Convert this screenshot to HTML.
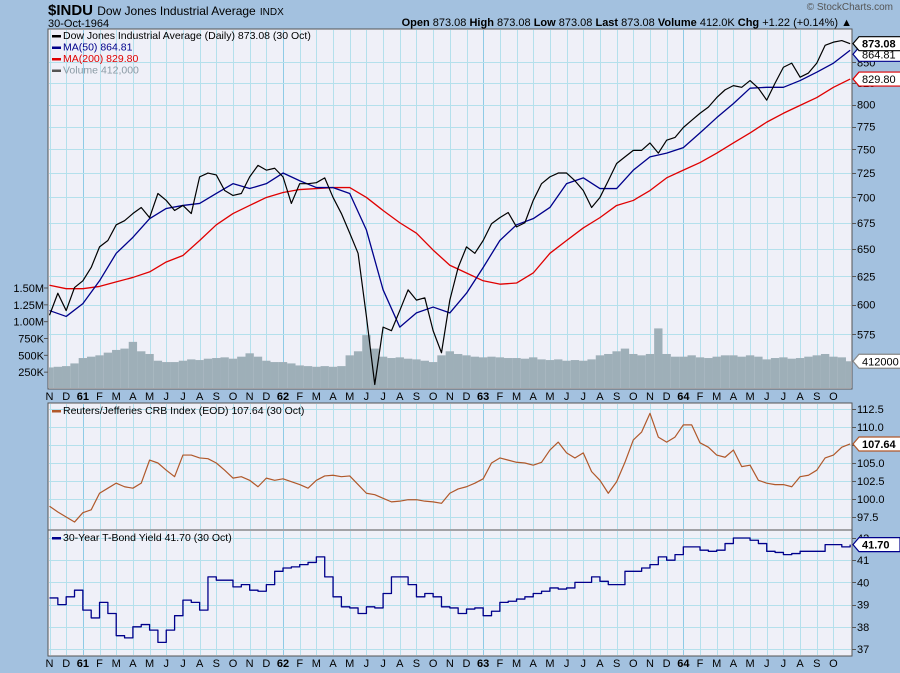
<!DOCTYPE html>
<html><head><meta charset="utf-8"><style>
body{margin:0;background:#a3c1df;font-family:"Liberation Sans",sans-serif;}
svg{display:block}
text{font-family:"Liberation Sans",sans-serif}
</style></head><body>
<svg id="c" width="900" height="673" viewBox="0 0 900 673">
<rect x="0" y="0" width="900" height="673" fill="#a3c1df"/>
<text x="48" y="15" font-size="15" font-weight="bold" fill="#000">$INDU <tspan font-weight="normal" font-size="12">Dow Jones Industrial Average</tspan> <tspan font-weight="normal" font-size="10">INDX</tspan></text>
<text x="48" y="27" font-size="11" fill="#000">30-Oct-1964</text>
<text x="893" y="10" font-size="10" fill="#555" text-anchor="end">© StockCharts.com</text>
<text x="852" y="26" font-size="11" fill="#000" text-anchor="end"><tspan font-weight="bold">Open</tspan> 873.08  <tspan font-weight="bold">High</tspan> 873.08  <tspan font-weight="bold">Low</tspan> 873.08  <tspan font-weight="bold">Last</tspan> 873.08  <tspan font-weight="bold">Volume</tspan> 412.0K  <tspan font-weight="bold">Chg</tspan> +1.22 (+0.14%) ▲</text>
<g id="main"></g>
</svg>
<script>
// half-month samples Nov 1960 .. 30 Oct 1964
const months=["N","D","61","F","M","A","M","J","J","A","S","O","N","D","62","F","M","A","M","J","J","A","S","O","N","D","63","F","M","A","M","J","J","A","S","O","N","D","64","F","M","A","M","J","J","A","S","O"];
const closes=[591,610,595,615,621,633,652,658,673,677,684,690,680,704,697,687,692,684,721,725,723,707,702,704,721,733,728,730,721,694,714,714,715,720,700,684,665,646,590,535,581,578,595,613,604,606,578,560,604,633,652,646,658,674,680,685,671,675,697,714,721,725,725,717,707,690,700,717,735,742,749,749,757,746,760,763,774,782,790,797,808,817,822,820,828,819,805,825,844,849,832,837,849,871,875,877,873.08];
// monthly MA readings (every 2nd sample, last at final sample)
const ma50=[595,590,601,621,646,661,679,689,692,694,704,714,709,714,725,717,710,710,704,668,613,581,593,598,593,610,633,658,673,679,690,714,720,709,709,728,742,746,752,768,785,801,819,820,820,828,838,849,864.81];
const ma200=[617,614,614,616,620,624,629,638,644,658,673,684,692,700,705,708,709,710,710,700,687,675,665,649,635,628,621,618,619,628,646,658,670,680,692,697,707,720,728,736,746,757,768,780,790,799,808,820,829.8];
const volumes=[320,330,340,380,460,480,500,540,580,600,700,560,520,420,400,400,420,440,430,450,460,470,450,480,530,480,420,400,400,380,350,340,330,340,330,340,500,560,800,600,480,460,470,450,440,420,400,500,560,520,500,480,470,480,470,460,460,450,470,440,430,440,420,430,420,440,500,520,560,600,520,500,520,900,520,480,480,500,470,460,480,500,500,480,500,480,440,460,470,450,460,480,500,520,480,470,412];
const crb=[99.0,98.2,97.5,96.8,98.1,98.5,100.8,101.5,102.2,101.7,101.5,102.2,105.4,105.0,104.0,103.1,106.1,106.1,105.7,105.6,105.0,104.0,102.9,103.1,102.6,101.7,102.9,102.6,102.8,102.4,102.0,101.5,102.6,103.2,103.3,103.1,103.2,102.0,100.8,100.6,100.1,99.6,99.7,99.9,99.9,99.7,99.6,99.4,100.8,101.4,101.7,102.2,102.8,105.0,105.7,105.4,105.1,105.0,104.7,105.1,106.8,107.9,106.4,105.7,106.4,103.8,102.6,100.8,102.4,105.1,108.2,109.3,111.9,108.6,107.9,108.6,110.3,110.3,107.8,107.2,106.1,105.8,106.8,104.5,104.7,102.6,102.2,102.0,102.0,101.7,103.1,103.3,104.0,105.7,106.1,107.2,107.64];
const bond=[39.3,39.0,39.35,39.65,38.75,38.4,39.1,38.6,37.6,37.5,38.0,38.1,37.85,37.3,37.85,38.5,39.2,39.1,38.75,40.25,40.1,40.1,39.8,39.9,39.65,39.6,39.9,40.5,40.65,40.7,40.8,40.9,41.15,40.25,39.35,38.9,38.85,38.6,38.9,38.85,39.5,40.25,40.25,39.9,39.35,39.5,39.35,38.9,38.85,38.6,38.8,38.85,38.5,38.7,39.1,39.15,39.25,39.35,39.5,39.6,39.75,39.7,39.75,40.0,40.0,40.25,40.05,39.9,39.9,40.5,40.5,40.65,40.8,41.15,41.0,41.25,41.6,41.6,41.45,41.4,41.45,41.75,42.0,42.0,41.9,41.75,41.4,41.35,41.25,41.3,41.4,41.4,41.4,41.7,41.7,41.6,41.7];
const priceTicks=[575,600,625,650,675,700,725,750,775,800,825,850];
const volTicks=[250,500,750,1000,1250,1500];
const volTickLabels=["250K","500K","750K","1.00M","1.25M","1.50M"];
const crbTicks=[97.5,100,102.5,105,107.5,110,112.5];
const crbTickLabels=["97.5","100.0","102.5","105.0","107.5","110.0","112.5"];
const bondTicks=[37,38,39,40,41,42];

const NS="http://www.w3.org/2000/svg";
const root=document.getElementById('main');
function el(tag,attrs,parent){const e=document.createElementNS(NS,tag);for(const k in attrs)e.setAttribute(k,attrs[k]);(parent||root).appendChild(e);return e;}
const L=48,R=852;
const P1={t:29,b:389},P2={t:403,b:530},P3={t:530,b:656};
const xi=i=>49.5+i*8.34;
const xm=m=>49.5+m*16.68;
const yP=p=>4757-696*Math.log(p);
const yV=v=>389-v/1500*101;
const yC=v=>409+(112.5-v)*7.2;
const yB=v=>538+(42-v)*22.2;

function panel(p,name){
  const r=el('rect',{x:L,y:p.t,width:R-L,height:p.b-p.t,fill:'#eff0f8',stroke:'#555','stroke-width':1});
  
  
  for(let m=0;m<months.length;m++){
    const x=Math.round(xm(m))+0.5;
    const yr=/\d/.test(months[m]);
    const g=el('line',{x1:x,x2:x,y1:p.t+1,y2:p.b-1,stroke:yr?'#8fcbe6':'#b4e0ec','stroke-width':1});
    
    
  }
}
function hgrid(p,vals,f,labels,name){
  vals.forEach((v,k)=>{
    const y=Math.round(f(v))+0.5;
    if(y>p.t&&y<p.b){const g=el('line',{x1:L+1,x2:R-1,y1:y,y2:y,stroke:'#b4e0ec'});
    
    }
    el('line',{x1:R,x2:R+4,y1:y,y2:y,stroke:'#555'});
    const t=el('text',{x:R+5,y:f(v)+4,'font-size':11,fill:'#000'});
    t.textContent=labels?labels[k]:String(v);
    
    
  });
}
function poly(vals,xf,yf,color,w,name,step){
  let d='';
  vals.forEach((v,i)=>{const x=xf(i),y=yf(v);
    if(i===0)d+='M'+x+','+y;else if(step)d+='H'+x+'V'+y;else d+='L'+x+','+y;});
  const p=el('path',{d:d,fill:'none',stroke:color,'stroke-width':w,'stroke-linejoin':'round'});
  
  
}
function valueBox(y,txt,color,name,bold){
  const w=txt.length*7+6;
  const b=el('path',{d:`M${R+1},${y} L${R+7},${y-7} H${R+7+w} V${y+7} H${R+7} Z`,fill:'#fff',stroke:color,'stroke-width':1.2});
  
  
  const t=el('text',{x:R+10,y:y+4,'font-size':11,'font-weight':bold?'bold':'normal',fill:'#000'});
  t.textContent=txt;
  
  
}
function monthLabels(y,name){
  months.forEach((m,k)=>{
    const t=el('text',{x:xm(k),y:y,'font-size':11,'text-anchor':'middle','font-weight':/\d/.test(m)?'bold':'normal',fill:'#000'});
    t.textContent=m;
    
    
  });
}

// main panel
panel(P1,'price-panel');
hgrid(P1,priceTicks,yP,null,'price');
volTicks.forEach((v,k)=>{
  const y=yV(v);
  el('line',{x1:L-4,x2:L,y1:y,y2:y,stroke:'#555'});
  const t=el('text',{x:L-4,y:y+4,'font-size':11,'text-anchor':'end',fill:'#000'});
  t.textContent=volTickLabels[k];
  
  
});
volumes.forEach((v,i)=>{
  const x0=Math.max(L+1,xi(i)-4.17),x1=Math.min(R-1,xi(i)+4.17);
  const b=el('rect',{x:x0,y:yV(v),width:x1-x0,height:388-yV(v),fill:'#9eafb8'});
  
  
});
poly(ma200,i=>xi(i===ma200.length-1?96:i*2),yP,'#e00000',1.3,'ma200-line');
poly(ma50,i=>xi(i===ma50.length-1?96:i*2),yP,'#00008b',1.3,'ma50-line');
poly(closes,xi,yP,'#000',1.2,'dow-close-line');
valueBox(yP(829.8),'829.80','#e00000','ma200-value');
valueBox(yP(864.81)+4,'864.81','#00008b','ma50-value');
valueBox(yP(873.08),'873.08','#000','close-value',true);
valueBox(yV(412),'412000','#888','volume-value');

const leg=[["Dow Jones Industrial Average (Daily) 873.08 (30 Oct)","#000","#000"],["MA(50) 864.81","#00008b","#00008b"],["MA(200) 829.80","#e00000","#e00000"],["Volume 412,000","#8a9aa4","#555"]];
leg.forEach((l,k)=>{
  const y=39+k*11.5;
  el('rect',{x:52,y:y-4,width:9,height:2.5,fill:l[2]});
  const t=el('text',{x:63,y:y,'font-size':10.5,fill:l[1]});
  t.textContent=l[0];
  
  
});
monthLabels(400,'x-axis-label-top');

// CRB panel
panel(P2,'crb-panel');
hgrid(P2,crbTicks,yC,crbTickLabels,'crb');
poly(crb,xi,yC,'#b0582a',1.2,'crb-line');
valueBox(yC(107.64),'107.64','#b0582a','crb-value',true);
el('rect',{x:52,y:410,width:9,height:2.5,fill:'#b0582a'});
let t=el('text',{x:63,y:414,'font-size':10.5,fill:'#000'});
t.textContent='Reuters/Jefferies CRB Index (EOD) 107.64 (30 Oct)';



// Bond panel
panel(P3,'bond-panel');
hgrid(P3,bondTicks,yB,null,'bond');
poly(bond,xi,yB,'#00008b',1.3,'bond-yield-line',true);
valueBox(yB(41.7),'41.70','#00008b','bond-value',true);
el('rect',{x:52,y:537,width:9,height:2.5,fill:'#00008b'});
t=el('text',{x:63,y:541,'font-size':10.5,fill:'#000'});
t.textContent='30-Year T-Bond Yield 41.70 (30 Oct)';


monthLabels(667,'x-axis-label-bottom');
</script>
</body></html>
